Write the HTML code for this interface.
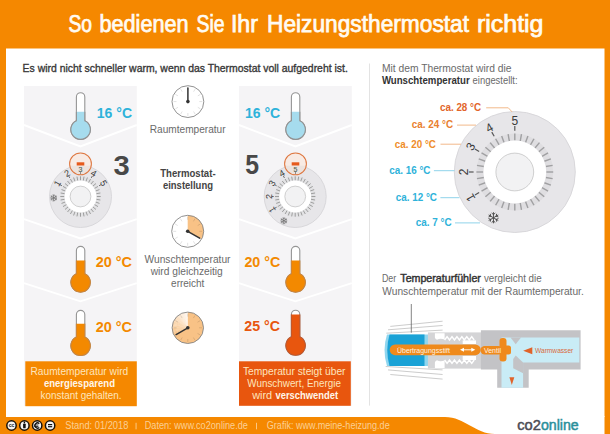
<!DOCTYPE html>
<html><head><meta charset="utf-8"><title>So bedienen Sie Ihr Heizungsthermostat richtig</title>
<style>html,body{margin:0;padding:0;background:#fff;} svg{display:block;}</style></head>
<body><svg width="610" height="434" viewBox="0 0 610 434" font-family='"Liberation Sans", sans-serif'><rect x="0" y="0" width="610" height="434" fill="#f58800"/>
<rect x="6" y="48.5" width="598.5" height="368.5" fill="#ffffff"/>
<path d="M445,417 C465,417 475,434 495,434 L604.5,434 L604.5,416 Z" fill="#ffffff"/>
<text x="68.48" y="32.20" font-size="23" fill="#fffbf2" font-weight="normal" text-anchor="start" textLength="23.52" lengthAdjust="spacingAndGlyphs" stroke="#fffbf2" stroke-width="0.75">So</text>
<text x="99.49" y="32.20" font-size="23" fill="#fffbf2" font-weight="normal" text-anchor="start" textLength="89.03" lengthAdjust="spacingAndGlyphs" stroke="#fffbf2" stroke-width="0.75">bedienen</text>
<text x="196.45" y="32.20" font-size="23" fill="#fffbf2" font-weight="normal" text-anchor="start" textLength="28.06" lengthAdjust="spacingAndGlyphs" stroke="#fffbf2" stroke-width="0.75">Sie</text>
<text x="230.91" y="32.20" font-size="23" fill="#fffbf2" font-weight="normal" text-anchor="start" textLength="27.06" lengthAdjust="spacingAndGlyphs" stroke="#fffbf2" stroke-width="0.75">Ihr</text>
<text x="267.00" y="32.20" font-size="23" fill="#fffbf2" font-weight="normal" text-anchor="start" textLength="202.00" lengthAdjust="spacingAndGlyphs" stroke="#fffbf2" stroke-width="0.75">Heizungsthermostat</text>
<text x="476.96" y="32.20" font-size="23" fill="#fffbf2" font-weight="normal" text-anchor="start" textLength="66.55" lengthAdjust="spacingAndGlyphs" stroke="#fffbf2" stroke-width="0.75">richtig</text>
<text x="22.60" y="71.70" font-size="11" fill="#383838" font-weight="normal" text-anchor="start" textLength="325.20" lengthAdjust="spacingAndGlyphs" stroke="#383838" stroke-width="0.35">Es wird nicht schneller warm, wenn das Thermostat voll aufgedreht ist.</text>
<rect x="24" y="86" width="112.8" height="320" fill="#f5f4f6"/>
<polyline points="24,125 80.4,146.5 136.8,125" fill="none" stroke="#ffffff" stroke-width="1.9"/>
<polyline points="24,219.2 80.4,238.4 136.8,219.2" fill="none" stroke="#ffffff" stroke-width="1.9"/>
<polyline points="24,283.2 80.4,301.3 136.8,283.2" fill="none" stroke="#ffffff" stroke-width="1.9"/>
<rect x="239" y="86" width="112.8" height="320" fill="#f5f4f6"/>
<polyline points="239,125 295.4,146.5 351.8,125" fill="none" stroke="#ffffff" stroke-width="1.9"/>
<polyline points="239,219.2 295.4,238.4 351.8,219.2" fill="none" stroke="#ffffff" stroke-width="1.9"/>
<polyline points="239,283.2 295.4,301.3 351.8,283.2" fill="none" stroke="#ffffff" stroke-width="1.9"/>
<clipPath id="thc1"><rect x="67.85" y="111.7" width="25.5" height="30.64999999999999"/></clipPath>
<path d="M76.40,120.80 V96.90 A4.2,4.2 0 0 1 84.80,96.90 V120.80 A9.75,9.75 0 1 1 76.40,120.80 Z" fill="#ffffff" stroke="#959595" stroke-width="1.1"/>
<path d="M76.40,120.80 V96.90 A4.2,4.2 0 0 1 84.80,96.90 V120.80 A9.75,9.75 0 1 1 76.40,120.80 Z" fill="#a6dcee" stroke="#929292" stroke-width="1.1" clip-path="url(#thc1)"/>
<clipPath id="thc2"><rect x="67.89999999999999" y="260.6" width="25.4" height="34.49999999999994"/></clipPath>
<path d="M76.40,273.66 V250.60 A4.2,4.2 0 0 1 84.80,250.60 V273.66 A9.7,9.7 0 1 1 76.40,273.66 Z" fill="#ffffff" stroke="#959595" stroke-width="1.1"/>
<path d="M76.40,273.66 V250.60 A4.2,4.2 0 0 1 84.80,250.60 V273.66 A9.7,9.7 0 1 1 76.40,273.66 Z" fill="#f38900" stroke="#cf8536" stroke-width="1.1" clip-path="url(#thc2)"/>
<clipPath id="thc3"><rect x="67.89999999999999" y="323.7" width="25.4" height="34.80000000000001"/></clipPath>
<path d="M76.40,337.06 V314.60 A4.2,4.2 0 0 1 84.80,314.60 V337.06 A9.7,9.7 0 1 1 76.40,337.06 Z" fill="#ffffff" stroke="#959595" stroke-width="1.1"/>
<path d="M76.40,337.06 V314.60 A4.2,4.2 0 0 1 84.80,314.60 V337.06 A9.7,9.7 0 1 1 76.40,337.06 Z" fill="#f38900" stroke="#cf8536" stroke-width="1.1" clip-path="url(#thc3)"/>
<clipPath id="thc4"><rect x="282.85" y="111.7" width="25.5" height="30.64999999999999"/></clipPath>
<path d="M291.40,120.80 V96.90 A4.2,4.2 0 0 1 299.80,96.90 V120.80 A9.75,9.75 0 1 1 291.40,120.80 Z" fill="#ffffff" stroke="#959595" stroke-width="1.1"/>
<path d="M291.40,120.80 V96.90 A4.2,4.2 0 0 1 299.80,96.90 V120.80 A9.75,9.75 0 1 1 291.40,120.80 Z" fill="#a6dcee" stroke="#929292" stroke-width="1.1" clip-path="url(#thc4)"/>
<clipPath id="thc5"><rect x="282.90000000000003" y="260.6" width="25.4" height="34.49999999999994"/></clipPath>
<path d="M291.40,273.66 V250.60 A4.2,4.2 0 0 1 299.80,250.60 V273.66 A9.7,9.7 0 1 1 291.40,273.66 Z" fill="#ffffff" stroke="#959595" stroke-width="1.1"/>
<path d="M291.40,273.66 V250.60 A4.2,4.2 0 0 1 299.80,250.60 V273.66 A9.7,9.7 0 1 1 291.40,273.66 Z" fill="#f38900" stroke="#cf8536" stroke-width="1.1" clip-path="url(#thc5)"/>
<clipPath id="thc6"><rect x="282.90000000000003" y="314.5" width="25.4" height="43.80000000000001"/></clipPath>
<path d="M291.40,336.86 V314.40 A4.2,4.2 0 0 1 299.80,314.40 V336.86 A9.7,9.7 0 1 1 291.40,336.86 Z" fill="#ffffff" stroke="#959595" stroke-width="1.1"/>
<path d="M291.40,336.86 V314.40 A4.2,4.2 0 0 1 299.80,314.40 V336.86 A9.7,9.7 0 1 1 291.40,336.86 Z" fill="#e8560e" stroke="#c2562a" stroke-width="1.1" clip-path="url(#thc6)"/>
<text x="96.80" y="118.00" font-size="14" fill="#2eb2da" font-weight="bold" text-anchor="start" textLength="35.20" lengthAdjust="spacingAndGlyphs" >16 °C</text>
<text x="245.00" y="118.00" font-size="14" fill="#2eb2da" font-weight="bold" text-anchor="start" textLength="35.20" lengthAdjust="spacingAndGlyphs" >16 °C</text>
<text x="95.70" y="266.80" font-size="14" fill="#f38900" font-weight="bold" text-anchor="start" textLength="36.30" lengthAdjust="spacingAndGlyphs" >20 °C</text>
<text x="244.40" y="266.90" font-size="14" fill="#f38900" font-weight="bold" text-anchor="start" textLength="35.90" lengthAdjust="spacingAndGlyphs" >20 °C</text>
<text x="95.70" y="331.80" font-size="14" fill="#f38900" font-weight="bold" text-anchor="start" textLength="36.30" lengthAdjust="spacingAndGlyphs" >20 °C</text>
<text x="244.30" y="331.30" font-size="14" fill="#e8560e" font-weight="bold" text-anchor="start" textLength="35.70" lengthAdjust="spacingAndGlyphs" >25 °C</text>
<text x="113.60" y="175.00" font-size="28" fill="#484848" font-weight="bold" text-anchor="start" textLength="16.20" lengthAdjust="spacingAndGlyphs" >3</text>
<text x="245.20" y="174.20" font-size="28" fill="#484848" font-weight="bold" text-anchor="start" textLength="13.80" lengthAdjust="spacingAndGlyphs" >5</text>
<rect x="25.3" y="361.3" width="111.5" height="44.9" fill="#f58800"/>
<rect x="239" y="361.3" width="111.8" height="44.5" fill="#e8560e"/>
<text x="30.50" y="374.50" font-size="11" fill="#fde5bd" font-weight="normal" text-anchor="start" textLength="97.70" lengthAdjust="spacingAndGlyphs" >Raumtemperatur wird</text>
<text x="43.90" y="386.80" font-size="11" fill="#fff6ea" font-weight="bold" text-anchor="start" textLength="71.10" lengthAdjust="spacingAndGlyphs" >energiesparend</text>
<text x="40.60" y="398.70" font-size="11" fill="#fde5bd" font-weight="normal" text-anchor="start" textLength="80.80" lengthAdjust="spacingAndGlyphs" >konstant gehalten.</text>
<text x="243.00" y="375.20" font-size="11" fill="#fde5bd" font-weight="normal" text-anchor="start" textLength="102.50" lengthAdjust="spacingAndGlyphs" >Temperatur steigt über</text>
<text x="247.30" y="386.80" font-size="11" fill="#fde5bd" font-weight="normal" text-anchor="start" textLength="93.60" lengthAdjust="spacingAndGlyphs" >Wunschwert, Energie</text>
<text x="252.20" y="398.70" font-size="11" fill="#fde5bd" font-weight="normal" text-anchor="start" textLength="20.00" lengthAdjust="spacingAndGlyphs" >wird</text>
<text x="275.50" y="398.70" font-size="11" fill="#fff6ea" font-weight="bold" text-anchor="start" textLength="62.70" lengthAdjust="spacingAndGlyphs" >verschwendet</text>
<text x="149.80" y="133.30" font-size="11" fill="#6a6a6a" font-weight="normal" text-anchor="start" textLength="75.80" lengthAdjust="spacingAndGlyphs" >Raumtemperatur</text>
<text x="160.20" y="176.80" font-size="11" fill="#444444" font-weight="bold" text-anchor="start" textLength="55.40" lengthAdjust="spacingAndGlyphs" >Thermostat-</text>
<text x="162.90" y="188.60" font-size="11" fill="#444444" font-weight="bold" text-anchor="start" textLength="50.10" lengthAdjust="spacingAndGlyphs" >einstellung</text>
<text x="144.60" y="262.80" font-size="11" fill="#6a6a6a" font-weight="normal" text-anchor="start" textLength="85.90" lengthAdjust="spacingAndGlyphs" >Wunschtemperatur</text>
<text x="150.70" y="274.60" font-size="11" fill="#6a6a6a" font-weight="normal" text-anchor="start" textLength="72.10" lengthAdjust="spacingAndGlyphs" >wird gleichzeitig</text>
<text x="171.10" y="286.90" font-size="11" fill="#6a6a6a" font-weight="normal" text-anchor="start" textLength="33.30" lengthAdjust="spacingAndGlyphs" >erreicht</text>
<circle cx="187.9" cy="101.6" r="15.9" fill="#ffffff"/>
<line x1="187.90" y1="90.20" x2="187.90" y2="87.20" stroke="#000000" stroke-opacity="0.15" stroke-width="0.8"/>
<line x1="193.60" y1="91.73" x2="195.10" y2="89.13" stroke="#000000" stroke-opacity="0.15" stroke-width="0.8"/>
<line x1="197.77" y1="95.90" x2="200.37" y2="94.40" stroke="#000000" stroke-opacity="0.15" stroke-width="0.8"/>
<line x1="199.30" y1="101.60" x2="202.30" y2="101.60" stroke="#000000" stroke-opacity="0.15" stroke-width="0.8"/>
<line x1="197.77" y1="107.30" x2="200.37" y2="108.80" stroke="#000000" stroke-opacity="0.15" stroke-width="0.8"/>
<line x1="193.60" y1="111.47" x2="195.10" y2="114.07" stroke="#000000" stroke-opacity="0.15" stroke-width="0.8"/>
<line x1="187.90" y1="113.00" x2="187.90" y2="116.00" stroke="#000000" stroke-opacity="0.15" stroke-width="0.8"/>
<line x1="182.20" y1="111.47" x2="180.70" y2="114.07" stroke="#000000" stroke-opacity="0.15" stroke-width="0.8"/>
<line x1="178.03" y1="107.30" x2="175.43" y2="108.80" stroke="#000000" stroke-opacity="0.15" stroke-width="0.8"/>
<line x1="176.50" y1="101.60" x2="173.50" y2="101.60" stroke="#000000" stroke-opacity="0.15" stroke-width="0.8"/>
<line x1="178.03" y1="95.90" x2="175.43" y2="94.40" stroke="#000000" stroke-opacity="0.15" stroke-width="0.8"/>
<line x1="182.20" y1="91.73" x2="180.70" y2="89.13" stroke="#000000" stroke-opacity="0.15" stroke-width="0.8"/>
<circle cx="187.9" cy="101.6" r="15.9" fill="none" stroke="#858585" stroke-width="0.9"/>
<line x1="187.9" y1="101.6" x2="187.90" y2="87.90" stroke="#333333" stroke-width="1.5" stroke-linecap="round"/>
<circle cx="187.9" cy="101.6" r="1.8" fill="#333333"/>
<circle cx="187.7" cy="231.3" r="16" fill="#ffffff"/>
<path d="M187.7,231.3 L187.70,215.30 A16,16 0 0 1 201.56,239.30 Z" fill="#f8c286" fill-opacity="1.000"/>
<line x1="187.70" y1="219.80" x2="187.70" y2="216.80" stroke="#000000" stroke-opacity="0.15" stroke-width="0.8"/>
<line x1="193.45" y1="221.34" x2="194.95" y2="218.74" stroke="#000000" stroke-opacity="0.15" stroke-width="0.8"/>
<line x1="197.66" y1="225.55" x2="200.26" y2="224.05" stroke="#000000" stroke-opacity="0.15" stroke-width="0.8"/>
<line x1="199.20" y1="231.30" x2="202.20" y2="231.30" stroke="#000000" stroke-opacity="0.15" stroke-width="0.8"/>
<line x1="197.66" y1="237.05" x2="200.26" y2="238.55" stroke="#000000" stroke-opacity="0.15" stroke-width="0.8"/>
<line x1="193.45" y1="241.26" x2="194.95" y2="243.86" stroke="#000000" stroke-opacity="0.15" stroke-width="0.8"/>
<line x1="187.70" y1="242.80" x2="187.70" y2="245.80" stroke="#000000" stroke-opacity="0.15" stroke-width="0.8"/>
<line x1="181.95" y1="241.26" x2="180.45" y2="243.86" stroke="#000000" stroke-opacity="0.15" stroke-width="0.8"/>
<line x1="177.74" y1="237.05" x2="175.14" y2="238.55" stroke="#000000" stroke-opacity="0.15" stroke-width="0.8"/>
<line x1="176.20" y1="231.30" x2="173.20" y2="231.30" stroke="#000000" stroke-opacity="0.15" stroke-width="0.8"/>
<line x1="177.74" y1="225.55" x2="175.14" y2="224.05" stroke="#000000" stroke-opacity="0.15" stroke-width="0.8"/>
<line x1="181.95" y1="221.34" x2="180.45" y2="218.74" stroke="#000000" stroke-opacity="0.15" stroke-width="0.8"/>
<circle cx="187.7" cy="231.3" r="16" fill="none" stroke="#858585" stroke-width="0.9"/>
<line x1="187.7" y1="231.3" x2="199.65" y2="238.20" stroke="#333333" stroke-width="1.5" stroke-linecap="round"/>
<circle cx="187.7" cy="231.3" r="1.8" fill="#333333"/>
<circle cx="187.8" cy="327.8" r="15.7" fill="#ffffff"/>
<path d="M187.8,327.8 L187.80,312.10 A15.7,15.7 0 1 1 174.20,335.65 Z" fill="#f8c286" fill-opacity="1.000"/>
<path d="M187.8,327.8 L174.20,335.65 A15.7,15.7 0 0 1 173.52,334.34 Z" fill="#f8c286" fill-opacity="0.981"/>
<path d="M187.8,327.8 L173.57,334.44 A15.7,15.7 0 0 1 173.01,333.07 Z" fill="#f8c286" fill-opacity="0.944"/>
<path d="M187.8,327.8 L173.05,333.17 A15.7,15.7 0 0 1 172.61,331.76 Z" fill="#f8c286" fill-opacity="0.906"/>
<path d="M187.8,327.8 L172.63,331.86 A15.7,15.7 0 0 1 172.32,330.42 Z" fill="#f8c286" fill-opacity="0.869"/>
<path d="M187.8,327.8 L172.34,330.53 A15.7,15.7 0 0 1 172.15,329.06 Z" fill="#f8c286" fill-opacity="0.831"/>
<path d="M187.8,327.8 L172.16,329.17 A15.7,15.7 0 0 1 172.10,327.69 Z" fill="#f8c286" fill-opacity="0.794"/>
<path d="M187.8,327.8 L172.10,327.80 A15.7,15.7 0 0 1 172.17,326.32 Z" fill="#f8c286" fill-opacity="0.756"/>
<path d="M187.8,327.8 L172.16,326.43 A15.7,15.7 0 0 1 172.36,324.97 Z" fill="#f8c286" fill-opacity="0.719"/>
<path d="M187.8,327.8 L172.34,325.07 A15.7,15.7 0 0 1 172.66,323.63 Z" fill="#f8c286" fill-opacity="0.681"/>
<path d="M187.8,327.8 L172.63,323.74 A15.7,15.7 0 0 1 173.08,322.33 Z" fill="#f8c286" fill-opacity="0.644"/>
<path d="M187.8,327.8 L173.05,322.43 A15.7,15.7 0 0 1 173.62,321.07 Z" fill="#f8c286" fill-opacity="0.606"/>
<path d="M187.8,327.8 L173.57,321.16 A15.7,15.7 0 0 1 174.26,319.86 Z" fill="#f8c286" fill-opacity="0.569"/>
<path d="M187.8,327.8 L174.20,319.95 A15.7,15.7 0 0 1 175.00,318.71 Z" fill="#f8c286" fill-opacity="0.531"/>
<path d="M187.8,327.8 L174.94,318.79 A15.7,15.7 0 0 1 175.84,317.62 Z" fill="#f8c286" fill-opacity="0.494"/>
<path d="M187.8,327.8 L175.77,317.71 A15.7,15.7 0 0 1 176.78,316.62 Z" fill="#f8c286" fill-opacity="0.456"/>
<path d="M187.8,327.8 L176.70,316.70 A15.7,15.7 0 0 1 177.79,315.70 Z" fill="#f8c286" fill-opacity="0.419"/>
<path d="M187.8,327.8 L177.71,315.77 A15.7,15.7 0 0 1 178.88,314.88 Z" fill="#f8c286" fill-opacity="0.381"/>
<path d="M187.8,327.8 L178.79,314.94 A15.7,15.7 0 0 1 180.05,314.15 Z" fill="#f8c286" fill-opacity="0.344"/>
<path d="M187.8,327.8 L179.95,314.20 A15.7,15.7 0 0 1 181.26,313.52 Z" fill="#f8c286" fill-opacity="0.306"/>
<path d="M187.8,327.8 L181.16,313.57 A15.7,15.7 0 0 1 182.53,313.01 Z" fill="#f8c286" fill-opacity="0.269"/>
<path d="M187.8,327.8 L182.43,313.05 A15.7,15.7 0 0 1 183.84,312.61 Z" fill="#f8c286" fill-opacity="0.231"/>
<path d="M187.8,327.8 L183.74,312.63 A15.7,15.7 0 0 1 185.18,312.32 Z" fill="#f8c286" fill-opacity="0.194"/>
<path d="M187.8,327.8 L185.07,312.34 A15.7,15.7 0 0 1 186.54,312.15 Z" fill="#f8c286" fill-opacity="0.156"/>
<path d="M187.8,327.8 L186.43,312.16 A15.7,15.7 0 0 1 187.91,312.10 Z" fill="#f8c286" fill-opacity="0.119"/>
<line x1="187.80" y1="316.60" x2="187.80" y2="313.60" stroke="#000000" stroke-opacity="0.15" stroke-width="0.8"/>
<line x1="193.40" y1="318.10" x2="194.90" y2="315.50" stroke="#000000" stroke-opacity="0.15" stroke-width="0.8"/>
<line x1="197.50" y1="322.20" x2="200.10" y2="320.70" stroke="#000000" stroke-opacity="0.15" stroke-width="0.8"/>
<line x1="199.00" y1="327.80" x2="202.00" y2="327.80" stroke="#000000" stroke-opacity="0.15" stroke-width="0.8"/>
<line x1="197.50" y1="333.40" x2="200.10" y2="334.90" stroke="#000000" stroke-opacity="0.15" stroke-width="0.8"/>
<line x1="193.40" y1="337.50" x2="194.90" y2="340.10" stroke="#000000" stroke-opacity="0.15" stroke-width="0.8"/>
<line x1="187.80" y1="339.00" x2="187.80" y2="342.00" stroke="#000000" stroke-opacity="0.15" stroke-width="0.8"/>
<line x1="182.20" y1="337.50" x2="180.70" y2="340.10" stroke="#000000" stroke-opacity="0.15" stroke-width="0.8"/>
<line x1="178.10" y1="333.40" x2="175.50" y2="334.90" stroke="#000000" stroke-opacity="0.15" stroke-width="0.8"/>
<line x1="176.60" y1="327.80" x2="173.60" y2="327.80" stroke="#000000" stroke-opacity="0.15" stroke-width="0.8"/>
<line x1="178.10" y1="322.20" x2="175.50" y2="320.70" stroke="#000000" stroke-opacity="0.15" stroke-width="0.8"/>
<line x1="182.20" y1="318.10" x2="180.70" y2="315.50" stroke="#000000" stroke-opacity="0.15" stroke-width="0.8"/>
<circle cx="187.8" cy="327.8" r="15.7" fill="none" stroke="#858585" stroke-width="0.9"/>
<line x1="187.8" y1="327.8" x2="176.11" y2="334.55" stroke="#333333" stroke-width="1.5" stroke-linecap="round"/>
<circle cx="187.8" cy="327.8" r="1.8" fill="#333333"/>
<circle cx="80.5" cy="196.5" r="31" fill="#e7e6e9" stroke="#d6d5d8" stroke-width="0.9"/>
<circle cx="80.5" cy="196.5" r="20.2" fill="#e2e2e4"/>
<line x1="80.50" y1="180.50" x2="80.50" y2="176.30" stroke="#9a9a9a" stroke-width="0.95"/>
<line x1="83.28" y1="180.74" x2="84.01" y2="176.61" stroke="#9a9a9a" stroke-width="0.95"/>
<line x1="85.97" y1="181.46" x2="87.41" y2="177.52" stroke="#9a9a9a" stroke-width="0.95"/>
<line x1="88.50" y1="182.64" x2="90.60" y2="179.01" stroke="#9a9a9a" stroke-width="0.95"/>
<line x1="90.78" y1="184.24" x2="93.48" y2="181.03" stroke="#9a9a9a" stroke-width="0.95"/>
<line x1="92.76" y1="186.22" x2="95.97" y2="183.52" stroke="#9a9a9a" stroke-width="0.95"/>
<line x1="94.36" y1="188.50" x2="97.99" y2="186.40" stroke="#9a9a9a" stroke-width="0.95"/>
<line x1="95.54" y1="191.03" x2="99.48" y2="189.59" stroke="#9a9a9a" stroke-width="0.95"/>
<line x1="96.26" y1="193.72" x2="100.39" y2="192.99" stroke="#9a9a9a" stroke-width="0.95"/>
<line x1="96.50" y1="196.50" x2="100.70" y2="196.50" stroke="#9a9a9a" stroke-width="0.95"/>
<line x1="96.26" y1="199.28" x2="100.39" y2="200.01" stroke="#9a9a9a" stroke-width="0.95"/>
<line x1="95.54" y1="201.97" x2="99.48" y2="203.41" stroke="#9a9a9a" stroke-width="0.95"/>
<line x1="94.36" y1="204.50" x2="97.99" y2="206.60" stroke="#9a9a9a" stroke-width="0.95"/>
<line x1="92.76" y1="206.78" x2="95.97" y2="209.48" stroke="#9a9a9a" stroke-width="0.95"/>
<line x1="90.78" y1="208.76" x2="93.48" y2="211.97" stroke="#9a9a9a" stroke-width="0.95"/>
<line x1="88.50" y1="210.36" x2="90.60" y2="213.99" stroke="#9a9a9a" stroke-width="0.95"/>
<line x1="85.97" y1="211.54" x2="87.41" y2="215.48" stroke="#9a9a9a" stroke-width="0.95"/>
<line x1="83.28" y1="212.26" x2="84.01" y2="216.39" stroke="#9a9a9a" stroke-width="0.95"/>
<line x1="80.50" y1="212.50" x2="80.50" y2="216.70" stroke="#9a9a9a" stroke-width="0.95"/>
<line x1="77.72" y1="212.26" x2="76.99" y2="216.39" stroke="#9a9a9a" stroke-width="0.95"/>
<line x1="75.03" y1="211.54" x2="73.59" y2="215.48" stroke="#9a9a9a" stroke-width="0.95"/>
<line x1="72.50" y1="210.36" x2="70.40" y2="213.99" stroke="#9a9a9a" stroke-width="0.95"/>
<line x1="70.22" y1="208.76" x2="67.52" y2="211.97" stroke="#9a9a9a" stroke-width="0.95"/>
<line x1="68.24" y1="206.78" x2="65.03" y2="209.48" stroke="#9a9a9a" stroke-width="0.95"/>
<line x1="66.64" y1="204.50" x2="63.01" y2="206.60" stroke="#9a9a9a" stroke-width="0.95"/>
<line x1="65.46" y1="201.97" x2="61.52" y2="203.41" stroke="#9a9a9a" stroke-width="0.95"/>
<line x1="64.74" y1="199.28" x2="60.61" y2="200.01" stroke="#9a9a9a" stroke-width="0.95"/>
<line x1="64.50" y1="196.50" x2="60.30" y2="196.50" stroke="#9a9a9a" stroke-width="0.95"/>
<line x1="64.74" y1="193.72" x2="60.61" y2="192.99" stroke="#9a9a9a" stroke-width="0.95"/>
<line x1="65.46" y1="191.03" x2="61.52" y2="189.59" stroke="#9a9a9a" stroke-width="0.95"/>
<line x1="66.64" y1="188.50" x2="63.01" y2="186.40" stroke="#9a9a9a" stroke-width="0.95"/>
<line x1="68.24" y1="186.22" x2="65.03" y2="183.52" stroke="#9a9a9a" stroke-width="0.95"/>
<line x1="70.22" y1="184.24" x2="67.52" y2="181.03" stroke="#9a9a9a" stroke-width="0.95"/>
<line x1="72.50" y1="182.64" x2="70.40" y2="179.01" stroke="#9a9a9a" stroke-width="0.95"/>
<line x1="75.03" y1="181.46" x2="73.59" y2="177.52" stroke="#9a9a9a" stroke-width="0.95"/>
<line x1="77.72" y1="180.74" x2="76.99" y2="176.61" stroke="#9a9a9a" stroke-width="0.95"/>
<circle cx="80.5" cy="196.5" r="16" fill="#ffffff"/>
<circle cx="80.5" cy="196.5" r="10.4" fill="#f2f2f3" stroke="#bdbdbd" stroke-width="0.7"/>
<g transform="translate(53.74,197.90) rotate(0)" stroke="#6a6a6a" stroke-width="0.62" stroke-linecap="round" fill="none"><line x1="0" y1="0" x2="0.00" y2="-3.24"/><line x1="0.00" y1="-2.01" x2="-0.94" y2="-2.80"/><line x1="0.00" y1="-2.01" x2="0.94" y2="-2.80"/><line x1="0" y1="0" x2="2.81" y2="-1.62"/><line x1="1.74" y1="-1.00" x2="1.95" y2="-2.22"/><line x1="1.74" y1="-1.00" x2="2.90" y2="-0.58"/><line x1="0" y1="0" x2="2.81" y2="1.62"/><line x1="1.74" y1="1.00" x2="2.90" y2="0.58"/><line x1="1.74" y1="1.00" x2="1.95" y2="2.22"/><line x1="0" y1="0" x2="0.00" y2="3.24"/><line x1="0.00" y1="2.01" x2="0.94" y2="2.80"/><line x1="0.00" y1="2.01" x2="-0.94" y2="2.80"/><line x1="0" y1="0" x2="-2.81" y2="1.62"/><line x1="-1.74" y1="1.00" x2="-1.95" y2="2.22"/><line x1="-1.74" y1="1.00" x2="-2.90" y2="0.58"/><line x1="0" y1="0" x2="-2.81" y2="-1.62"/><line x1="-1.74" y1="-1.00" x2="-2.90" y2="-0.58"/><line x1="-1.74" y1="-1.00" x2="-1.95" y2="-2.22"/></g>
<text x="0" y="3.24" font-size="9" fill="#3a3a3a" stroke="#3a3a3a" stroke-width="0" text-anchor="middle" transform="translate(57.29,183.10) rotate(-60)">1</text>
<line x1="61.88" y1="185.75" x2="60.06" y2="184.70" stroke="#555555" stroke-width="0.90"/>
<text x="0" y="3.24" font-size="9" fill="#3a3a3a" stroke="#3a3a3a" stroke-width="0" text-anchor="middle" transform="translate(67.10,173.29) rotate(-30)">2</text>
<line x1="69.75" y1="177.88" x2="68.70" y2="176.06" stroke="#555555" stroke-width="0.90"/>
<text x="0" y="3.24" font-size="9" fill="#3a3a3a" stroke="#3a3a3a" stroke-width="0" text-anchor="middle" transform="translate(80.50,169.70) rotate(0)">3</text>
<line x1="80.50" y1="175.00" x2="80.50" y2="172.90" stroke="#555555" stroke-width="0.90"/>
<text x="0" y="3.24" font-size="9" fill="#3a3a3a" stroke="#3a3a3a" stroke-width="0" text-anchor="middle" transform="translate(93.90,173.29) rotate(30)">4</text>
<line x1="91.25" y1="177.88" x2="92.30" y2="176.06" stroke="#555555" stroke-width="0.90"/>
<text x="0" y="3.24" font-size="9" fill="#3a3a3a" stroke="#3a3a3a" stroke-width="0" text-anchor="middle" transform="translate(103.71,183.10) rotate(60)">5</text>
<line x1="99.12" y1="185.75" x2="100.94" y2="184.70" stroke="#555555" stroke-width="0.90"/>
<circle cx="295.2" cy="196.5" r="31" fill="#e7e6e9" stroke="#d6d5d8" stroke-width="0.9"/>
<circle cx="295.2" cy="196.5" r="20.2" fill="#e2e2e4"/>
<line x1="295.20" y1="180.50" x2="295.20" y2="176.30" stroke="#9a9a9a" stroke-width="0.95"/>
<line x1="297.98" y1="180.74" x2="298.71" y2="176.61" stroke="#9a9a9a" stroke-width="0.95"/>
<line x1="300.67" y1="181.46" x2="302.11" y2="177.52" stroke="#9a9a9a" stroke-width="0.95"/>
<line x1="303.20" y1="182.64" x2="305.30" y2="179.01" stroke="#9a9a9a" stroke-width="0.95"/>
<line x1="305.48" y1="184.24" x2="308.18" y2="181.03" stroke="#9a9a9a" stroke-width="0.95"/>
<line x1="307.46" y1="186.22" x2="310.67" y2="183.52" stroke="#9a9a9a" stroke-width="0.95"/>
<line x1="309.06" y1="188.50" x2="312.69" y2="186.40" stroke="#9a9a9a" stroke-width="0.95"/>
<line x1="310.24" y1="191.03" x2="314.18" y2="189.59" stroke="#9a9a9a" stroke-width="0.95"/>
<line x1="310.96" y1="193.72" x2="315.09" y2="192.99" stroke="#9a9a9a" stroke-width="0.95"/>
<line x1="311.20" y1="196.50" x2="315.40" y2="196.50" stroke="#9a9a9a" stroke-width="0.95"/>
<line x1="310.96" y1="199.28" x2="315.09" y2="200.01" stroke="#9a9a9a" stroke-width="0.95"/>
<line x1="310.24" y1="201.97" x2="314.18" y2="203.41" stroke="#9a9a9a" stroke-width="0.95"/>
<line x1="309.06" y1="204.50" x2="312.69" y2="206.60" stroke="#9a9a9a" stroke-width="0.95"/>
<line x1="307.46" y1="206.78" x2="310.67" y2="209.48" stroke="#9a9a9a" stroke-width="0.95"/>
<line x1="305.48" y1="208.76" x2="308.18" y2="211.97" stroke="#9a9a9a" stroke-width="0.95"/>
<line x1="303.20" y1="210.36" x2="305.30" y2="213.99" stroke="#9a9a9a" stroke-width="0.95"/>
<line x1="300.67" y1="211.54" x2="302.11" y2="215.48" stroke="#9a9a9a" stroke-width="0.95"/>
<line x1="297.98" y1="212.26" x2="298.71" y2="216.39" stroke="#9a9a9a" stroke-width="0.95"/>
<line x1="295.20" y1="212.50" x2="295.20" y2="216.70" stroke="#9a9a9a" stroke-width="0.95"/>
<line x1="292.42" y1="212.26" x2="291.69" y2="216.39" stroke="#9a9a9a" stroke-width="0.95"/>
<line x1="289.73" y1="211.54" x2="288.29" y2="215.48" stroke="#9a9a9a" stroke-width="0.95"/>
<line x1="287.20" y1="210.36" x2="285.10" y2="213.99" stroke="#9a9a9a" stroke-width="0.95"/>
<line x1="284.92" y1="208.76" x2="282.22" y2="211.97" stroke="#9a9a9a" stroke-width="0.95"/>
<line x1="282.94" y1="206.78" x2="279.73" y2="209.48" stroke="#9a9a9a" stroke-width="0.95"/>
<line x1="281.34" y1="204.50" x2="277.71" y2="206.60" stroke="#9a9a9a" stroke-width="0.95"/>
<line x1="280.16" y1="201.97" x2="276.22" y2="203.41" stroke="#9a9a9a" stroke-width="0.95"/>
<line x1="279.44" y1="199.28" x2="275.31" y2="200.01" stroke="#9a9a9a" stroke-width="0.95"/>
<line x1="279.20" y1="196.50" x2="275.00" y2="196.50" stroke="#9a9a9a" stroke-width="0.95"/>
<line x1="279.44" y1="193.72" x2="275.31" y2="192.99" stroke="#9a9a9a" stroke-width="0.95"/>
<line x1="280.16" y1="191.03" x2="276.22" y2="189.59" stroke="#9a9a9a" stroke-width="0.95"/>
<line x1="281.34" y1="188.50" x2="277.71" y2="186.40" stroke="#9a9a9a" stroke-width="0.95"/>
<line x1="282.94" y1="186.22" x2="279.73" y2="183.52" stroke="#9a9a9a" stroke-width="0.95"/>
<line x1="284.92" y1="184.24" x2="282.22" y2="181.03" stroke="#9a9a9a" stroke-width="0.95"/>
<line x1="287.20" y1="182.64" x2="285.10" y2="179.01" stroke="#9a9a9a" stroke-width="0.95"/>
<line x1="289.73" y1="181.46" x2="288.29" y2="177.52" stroke="#9a9a9a" stroke-width="0.95"/>
<line x1="292.42" y1="180.74" x2="291.69" y2="176.61" stroke="#9a9a9a" stroke-width="0.95"/>
<circle cx="295.2" cy="196.5" r="16" fill="#ffffff"/>
<circle cx="295.2" cy="196.5" r="10.4" fill="#f2f2f3" stroke="#bdbdbd" stroke-width="0.7"/>
<g transform="translate(283.87,220.79) rotate(0)" stroke="#6a6a6a" stroke-width="0.62" stroke-linecap="round" fill="none"><line x1="0" y1="0" x2="0.00" y2="-3.24"/><line x1="0.00" y1="-2.01" x2="-0.94" y2="-2.80"/><line x1="0.00" y1="-2.01" x2="0.94" y2="-2.80"/><line x1="0" y1="0" x2="2.81" y2="-1.62"/><line x1="1.74" y1="-1.00" x2="1.95" y2="-2.22"/><line x1="1.74" y1="-1.00" x2="2.90" y2="-0.58"/><line x1="0" y1="0" x2="2.81" y2="1.62"/><line x1="1.74" y1="1.00" x2="2.90" y2="0.58"/><line x1="1.74" y1="1.00" x2="1.95" y2="2.22"/><line x1="0" y1="0" x2="0.00" y2="3.24"/><line x1="0.00" y1="2.01" x2="0.94" y2="2.80"/><line x1="0.00" y1="2.01" x2="-0.94" y2="2.80"/><line x1="0" y1="0" x2="-2.81" y2="1.62"/><line x1="-1.74" y1="1.00" x2="-1.95" y2="2.22"/><line x1="-1.74" y1="1.00" x2="-2.90" y2="0.58"/><line x1="0" y1="0" x2="-2.81" y2="-1.62"/><line x1="-1.74" y1="-1.00" x2="-2.90" y2="-0.58"/><line x1="-1.74" y1="-1.00" x2="-1.95" y2="-2.22"/></g>
<text x="0" y="3.24" font-size="9" fill="#3a3a3a" stroke="#3a3a3a" stroke-width="0" text-anchor="middle" transform="translate(271.99,209.90) rotate(-120)">1</text>
<line x1="276.58" y1="207.25" x2="274.76" y2="208.30" stroke="#555555" stroke-width="0.90"/>
<text x="0" y="3.24" font-size="9" fill="#3a3a3a" stroke="#3a3a3a" stroke-width="0" text-anchor="middle" transform="translate(268.40,196.50) rotate(-90)">2</text>
<line x1="273.70" y1="196.50" x2="271.60" y2="196.50" stroke="#555555" stroke-width="0.90"/>
<text x="0" y="3.24" font-size="9" fill="#3a3a3a" stroke="#3a3a3a" stroke-width="0" text-anchor="middle" transform="translate(271.99,183.10) rotate(-60)">3</text>
<line x1="276.58" y1="185.75" x2="274.76" y2="184.70" stroke="#555555" stroke-width="0.90"/>
<text x="0" y="3.24" font-size="9" fill="#3a3a3a" stroke="#3a3a3a" stroke-width="0" text-anchor="middle" transform="translate(281.80,173.29) rotate(-30)">4</text>
<line x1="284.45" y1="177.88" x2="283.40" y2="176.06" stroke="#555555" stroke-width="0.90"/>
<text x="0" y="3.24" font-size="9" fill="#3a3a3a" stroke="#3a3a3a" stroke-width="0" text-anchor="middle" transform="translate(295.20,169.70) rotate(0)">5</text>
<line x1="295.20" y1="175.00" x2="295.20" y2="172.90" stroke="#555555" stroke-width="0.90"/>
<clipPath id="mg3"><circle cx="80.5" cy="163.9" r="10.8"/></clipPath>
<circle cx="80.5" cy="163.9" r="10.8" fill="#f8ebe4"/>
<rect x="68.5" y="165.70000000000002" width="24" height="12" fill="#ece3de" clip-path="url(#mg3)"/>
<rect x="76.7" y="162.3" width="7.6" height="3.2" fill="#e65a1c"/>
<text x="80.5" y="171.5" font-size="7" fill="#556658" stroke="#556658" stroke-width="0.15" text-anchor="middle">3</text>
<line x1="80.5" y1="171.9" x2="80.5" y2="174.4" stroke="#777" stroke-width="0.8"/>
<circle cx="80.5" cy="163.9" r="10.9" fill="none" stroke="#de7740" stroke-width="1.05"/>
<clipPath id="mg5"><circle cx="295.5" cy="163.9" r="10.8"/></clipPath>
<circle cx="295.5" cy="163.9" r="10.8" fill="#f8ebe4"/>
<rect x="283.5" y="165.70000000000002" width="24" height="12" fill="#ece3de" clip-path="url(#mg5)"/>
<rect x="291.7" y="162.3" width="7.6" height="3.2" fill="#e65a1c"/>
<text x="295.5" y="171.5" font-size="7" fill="#556658" stroke="#556658" stroke-width="0.15" text-anchor="middle">5</text>
<line x1="295.5" y1="171.9" x2="295.5" y2="174.4" stroke="#777" stroke-width="0.8"/>
<circle cx="295.5" cy="163.9" r="10.9" fill="none" stroke="#de7740" stroke-width="1.05"/>
<line x1="369.5" y1="63.5" x2="369.5" y2="405.6" stroke="#e3e3e3" stroke-width="1"/>
<text x="381.90" y="71.80" font-size="11" fill="#6a6a6a" font-weight="normal" text-anchor="start" textLength="129.60" lengthAdjust="spacingAndGlyphs" >Mit dem Thermostat wird die</text>
<text x="381.90" y="83.90" font-size="11" fill="#333333" font-weight="bold" text-anchor="start" textLength="87.80" lengthAdjust="spacingAndGlyphs" >Wunschtemperatur</text>
<text x="472.60" y="83.90" font-size="11" fill="#6a6a6a" font-weight="normal" text-anchor="start" textLength="45.00" lengthAdjust="spacingAndGlyphs" >eingestellt:</text>
<circle cx="514.8" cy="172" r="60.5" fill="#e7e6e9" stroke="#d6d5d8" stroke-width="0.9"/>
<circle cx="514.8" cy="172" r="38.4" fill="#dfdee1"/>
<line x1="514.80" y1="140.60" x2="514.80" y2="133.60" stroke="#a0a0a2" stroke-width="1.4"/>
<line x1="520.25" y1="141.08" x2="521.47" y2="134.18" stroke="#a0a0a2" stroke-width="1.4"/>
<line x1="525.54" y1="142.49" x2="527.93" y2="135.92" stroke="#a0a0a2" stroke-width="1.4"/>
<line x1="530.50" y1="144.81" x2="534.00" y2="138.74" stroke="#a0a0a2" stroke-width="1.4"/>
<line x1="534.98" y1="147.95" x2="539.48" y2="142.58" stroke="#a0a0a2" stroke-width="1.4"/>
<line x1="538.85" y1="151.82" x2="544.22" y2="147.32" stroke="#a0a0a2" stroke-width="1.4"/>
<line x1="541.99" y1="156.30" x2="548.06" y2="152.80" stroke="#a0a0a2" stroke-width="1.4"/>
<line x1="544.31" y1="161.26" x2="550.88" y2="158.87" stroke="#a0a0a2" stroke-width="1.4"/>
<line x1="545.72" y1="166.55" x2="552.62" y2="165.33" stroke="#a0a0a2" stroke-width="1.4"/>
<line x1="546.20" y1="172.00" x2="553.20" y2="172.00" stroke="#a0a0a2" stroke-width="1.4"/>
<line x1="545.72" y1="177.45" x2="552.62" y2="178.67" stroke="#a0a0a2" stroke-width="1.4"/>
<line x1="544.31" y1="182.74" x2="550.88" y2="185.13" stroke="#a0a0a2" stroke-width="1.4"/>
<line x1="541.99" y1="187.70" x2="548.06" y2="191.20" stroke="#a0a0a2" stroke-width="1.4"/>
<line x1="538.85" y1="192.18" x2="544.22" y2="196.68" stroke="#a0a0a2" stroke-width="1.4"/>
<line x1="534.98" y1="196.05" x2="539.48" y2="201.42" stroke="#a0a0a2" stroke-width="1.4"/>
<line x1="530.50" y1="199.19" x2="534.00" y2="205.26" stroke="#a0a0a2" stroke-width="1.4"/>
<line x1="525.54" y1="201.51" x2="527.93" y2="208.08" stroke="#a0a0a2" stroke-width="1.4"/>
<line x1="520.25" y1="202.92" x2="521.47" y2="209.82" stroke="#a0a0a2" stroke-width="1.4"/>
<line x1="514.80" y1="203.40" x2="514.80" y2="210.40" stroke="#a0a0a2" stroke-width="1.4"/>
<line x1="509.35" y1="202.92" x2="508.13" y2="209.82" stroke="#a0a0a2" stroke-width="1.4"/>
<line x1="504.06" y1="201.51" x2="501.67" y2="208.08" stroke="#a0a0a2" stroke-width="1.4"/>
<line x1="499.10" y1="199.19" x2="495.60" y2="205.26" stroke="#a0a0a2" stroke-width="1.4"/>
<line x1="494.62" y1="196.05" x2="490.12" y2="201.42" stroke="#a0a0a2" stroke-width="1.4"/>
<line x1="490.75" y1="192.18" x2="485.38" y2="196.68" stroke="#a0a0a2" stroke-width="1.4"/>
<line x1="487.61" y1="187.70" x2="481.54" y2="191.20" stroke="#a0a0a2" stroke-width="1.4"/>
<line x1="485.29" y1="182.74" x2="478.72" y2="185.13" stroke="#a0a0a2" stroke-width="1.4"/>
<line x1="483.88" y1="177.45" x2="476.98" y2="178.67" stroke="#a0a0a2" stroke-width="1.4"/>
<line x1="483.40" y1="172.00" x2="476.40" y2="172.00" stroke="#a0a0a2" stroke-width="1.4"/>
<line x1="483.88" y1="166.55" x2="476.98" y2="165.33" stroke="#a0a0a2" stroke-width="1.4"/>
<line x1="485.29" y1="161.26" x2="478.72" y2="158.87" stroke="#a0a0a2" stroke-width="1.4"/>
<line x1="487.61" y1="156.30" x2="481.54" y2="152.80" stroke="#a0a0a2" stroke-width="1.4"/>
<line x1="490.75" y1="151.82" x2="485.38" y2="147.32" stroke="#a0a0a2" stroke-width="1.4"/>
<line x1="494.62" y1="147.95" x2="490.12" y2="142.58" stroke="#a0a0a2" stroke-width="1.4"/>
<line x1="499.10" y1="144.81" x2="495.60" y2="138.74" stroke="#a0a0a2" stroke-width="1.4"/>
<line x1="504.06" y1="142.49" x2="501.67" y2="135.92" stroke="#a0a0a2" stroke-width="1.4"/>
<line x1="509.35" y1="141.08" x2="508.13" y2="134.18" stroke="#a0a0a2" stroke-width="1.4"/>
<circle cx="514.8" cy="172" r="31.4" fill="#ffffff"/>
<circle cx="514.8" cy="172" r="18.9" fill="#f2f2f3" stroke="#bdbdbd" stroke-width="0.7"/>
<g transform="translate(493.46,217.77) rotate(0)" stroke="#505050" stroke-width="0.98" stroke-linecap="round" fill="none"><line x1="0" y1="0" x2="0.00" y2="-5.16"/><line x1="0.00" y1="-3.20" x2="-1.50" y2="-4.46"/><line x1="0.00" y1="-3.20" x2="1.50" y2="-4.46"/><line x1="0" y1="0" x2="4.47" y2="-2.58"/><line x1="2.77" y1="-1.60" x2="3.11" y2="-3.53"/><line x1="2.77" y1="-1.60" x2="4.61" y2="-0.93"/><line x1="0" y1="0" x2="4.47" y2="2.58"/><line x1="2.77" y1="1.60" x2="4.61" y2="0.93"/><line x1="2.77" y1="1.60" x2="3.11" y2="3.53"/><line x1="0" y1="0" x2="0.00" y2="5.16"/><line x1="0.00" y1="3.20" x2="1.50" y2="4.46"/><line x1="0.00" y1="3.20" x2="-1.50" y2="4.46"/><line x1="0" y1="0" x2="-4.47" y2="2.58"/><line x1="-2.77" y1="1.60" x2="-3.11" y2="3.53"/><line x1="-2.77" y1="1.60" x2="-4.61" y2="0.93"/><line x1="0" y1="0" x2="-4.47" y2="-2.58"/><line x1="-2.77" y1="-1.60" x2="-4.61" y2="-0.93"/><line x1="-2.77" y1="-1.60" x2="-3.11" y2="-3.53"/></g>
<text x="0" y="4.32" font-size="12" fill="#3a3a3a" stroke="#3a3a3a" stroke-width="0" text-anchor="middle" transform="translate(470.37,197.65) rotate(-120)">1</text>
<line x1="479.12" y1="192.60" x2="474.96" y2="195.00" stroke="#555555" stroke-width="1.20"/>
<text x="0" y="4.32" font-size="12" fill="#3a3a3a" stroke="#3a3a3a" stroke-width="0" text-anchor="middle" transform="translate(463.50,172.00) rotate(-90)">2</text>
<line x1="473.60" y1="172.00" x2="468.80" y2="172.00" stroke="#555555" stroke-width="1.20"/>
<text x="0" y="4.32" font-size="12" fill="#3a3a3a" stroke="#3a3a3a" stroke-width="0" text-anchor="middle" transform="translate(470.37,146.35) rotate(-60)">3</text>
<line x1="479.12" y1="151.40" x2="474.96" y2="149.00" stroke="#555555" stroke-width="1.20"/>
<text x="0" y="4.32" font-size="12" fill="#3a3a3a" stroke="#3a3a3a" stroke-width="0" text-anchor="middle" transform="translate(489.15,127.57) rotate(-30)">4</text>
<line x1="494.20" y1="136.32" x2="491.80" y2="132.16" stroke="#555555" stroke-width="1.20"/>
<text x="0" y="4.32" font-size="12" fill="#3a3a3a" stroke="#3a3a3a" stroke-width="0" text-anchor="middle" transform="translate(514.80,120.70) rotate(0)">5</text>
<line x1="514.80" y1="130.80" x2="514.80" y2="126.00" stroke="#555555" stroke-width="1.20"/>
<text x="440.00" y="110.70" font-size="10" fill="#e2652a" font-weight="bold" text-anchor="start" textLength="41.10" lengthAdjust="spacingAndGlyphs" >ca. 28 °C</text>
<text x="411.80" y="127.50" font-size="10" fill="#e9802e" font-weight="bold" text-anchor="start" textLength="41.30" lengthAdjust="spacingAndGlyphs" >ca. 24 °C</text>
<text x="394.80" y="147.80" font-size="10" fill="#ef8d2a" font-weight="bold" text-anchor="start" textLength="41.20" lengthAdjust="spacingAndGlyphs" >ca. 20 °C</text>
<text x="389.30" y="174.10" font-size="10" fill="#2eb2da" font-weight="bold" text-anchor="start" textLength="41.20" lengthAdjust="spacingAndGlyphs" >ca. 16 °C</text>
<text x="395.80" y="200.70" font-size="10" fill="#2eb2da" font-weight="bold" text-anchor="start" textLength="41.20" lengthAdjust="spacingAndGlyphs" >ca. 12 °C</text>
<text x="415.70" y="226.30" font-size="10" fill="#2eb2da" font-weight="bold" text-anchor="start" textLength="35.90" lengthAdjust="spacingAndGlyphs" >ca. 7 °C</text>
<polyline points="486.2,107.8 508.3,107.8 512.2,112" fill="none" stroke="#f2b98a" stroke-width="1"/>
<line x1="457" y1="125.1" x2="476" y2="125.1" stroke="#f2b98a" stroke-width="1"/>
<line x1="440.5" y1="144.2" x2="461" y2="144.2" stroke="#f2b98a" stroke-width="1"/>
<line x1="433.9" y1="170.7" x2="454.5" y2="170.7" stroke="#8fd3ea" stroke-width="1"/>
<line x1="440.4" y1="197.7" x2="459.5" y2="197.7" stroke="#8fd3ea" stroke-width="1"/>
<line x1="455" y1="222.9" x2="480" y2="222.9" stroke="#8fd3ea" stroke-width="1"/>
<text x="381.90" y="282.30" font-size="11" fill="#6a6a6a" font-weight="normal" text-anchor="start" textLength="14.30" lengthAdjust="spacingAndGlyphs" >Der</text>
<text x="400.30" y="282.30" font-size="11" fill="#333333" font-weight="normal" text-anchor="start" textLength="80.60" lengthAdjust="spacingAndGlyphs" stroke="#333333" stroke-width="0.45">Temperaturfühler</text>
<text x="483.90" y="282.30" font-size="11" fill="#6a6a6a" font-weight="normal" text-anchor="start" textLength="57.80" lengthAdjust="spacingAndGlyphs" >vergleicht die</text>
<text x="382.30" y="294.50" font-size="11" fill="#6a6a6a" font-weight="normal" text-anchor="start" textLength="201.50" lengthAdjust="spacingAndGlyphs" >Wunschtemperatur mit der Raumtemperatur.</text>
<line x1="390.3" y1="326.4" x2="442.6" y2="321.2" stroke="#c6c6c6" stroke-width="0.9"/>
<line x1="388" y1="329.8" x2="442.6" y2="325.5" stroke="#c6c6c6" stroke-width="0.9"/>
<line x1="386.3" y1="333.2" x2="442.6" y2="330.1" stroke="#c6c6c6" stroke-width="0.9"/>
<line x1="385.7" y1="366.5" x2="442.6" y2="369.9" stroke="#c6c6c6" stroke-width="0.9"/>
<line x1="388" y1="369.9" x2="442.6" y2="374.5" stroke="#c6c6c6" stroke-width="0.9"/>
<line x1="390.3" y1="374.5" x2="442.6" y2="379.1" stroke="#c6c6c6" stroke-width="0.9"/>
<line x1="411.3" y1="304" x2="411.3" y2="332.7" stroke="#666666" stroke-width="0.8"/>
<path d="M387,334.4 L428,334.4 L428,366 L387,366 Q382,350.2 387,334.4 Z" fill="#8fd6ef"/>
<path d="M389.5,334.4 L424.5,334.4 L424.5,366 L389.5,366 Q385,350.2 389.5,334.4 Z" fill="#1aa2d6"/>
<rect x="427.9" y="332.4" width="53.6" height="36.2" fill="#d4d4d6"/>
<path d="M434.9,333.2 H444.6 V339.5 Q440,338 437,339.8 Q435,339 434.9,337.5 Z" fill="#ffffff"/>
<path d="M434.9,368 H444.6 V360.5 Q440,362 437,360.2 Q435,361 434.9,362.5 Z" fill="#ffffff"/>
<rect x="462.7" y="340.4" width="13.3" height="3.6" fill="#ffffff"/>
<rect x="462.7" y="356" width="13.3" height="4" fill="#ffffff"/>
<polyline points="444.60,340 447.07,336.6 449.53,340 452.00,336.6 454.47,340 456.93,336.6 459.40,340 461.87,336.6 464.33,340 466.80,336.6 469.27,340 471.73,336.6 474.20,340" fill="none" stroke="#ffffff" stroke-width="1.4"/>
<polyline points="444.60,360 447.07,363.4 449.53,360 452.00,363.4 454.47,360 456.93,363.4 459.40,360 461.87,363.4 464.33,360 466.80,363.4 469.27,360 471.73,363.4 474.20,360" fill="none" stroke="#ffffff" stroke-width="1.4"/>
<path d="M480.9,330.3 H580.6 V369.4 H528.7 V387.7 H497.2 V369.4 H480.9 Z" fill="#c3c3c6"/>
<path d="M501.5,337.5 H579.3 V362.5 H523.1 V387.7 H501.5 Z" fill="#c9ecf6"/>
<path d="M510.5,337.5 L521,337.5 L515.7,344.2 Z" fill="#c3c3c6"/>
<path d="M515.7,355.6 L523.1,362.5 L523.1,373.2 L513.2,368.3 L513.2,359 Z" fill="#c3c3c6"/>
<rect x="389.7" y="344.4" width="91" height="10.8" rx="5.4" fill="#ef8a1c"/>
<rect x="480.5" y="346.1" width="22" height="8.5" rx="4.2" fill="#ef8a1c"/>
<rect x="499.5" y="337.9" width="7" height="23.6" rx="3" fill="#ef8a1c"/>
<rect x="504" y="345.5" width="7" height="9" rx="2.5" fill="#ef8a1c"/>
<text x="397.00" y="352.80" font-size="7.5" fill="#fff2e0" font-weight="normal" text-anchor="start" textLength="53.00" lengthAdjust="spacingAndGlyphs" >Übertragungsstift</text>
<text x="484.00" y="352.80" font-size="7.5" fill="#fff2e0" font-weight="normal" text-anchor="start" textLength="17.00" lengthAdjust="spacingAndGlyphs" >Ventil</text>
<path d="M460,349.8 L464,347.8 L464,351.8 Z M475.3,349.8 L471.3,347.8 L471.3,351.8 Z" fill="#ffffff"/>
<line x1="463" y1="349.8" x2="472" y2="349.8" stroke="#ffffff" stroke-width="0.9"/>
<path d="M523.2,350.7 L532.3,347.2 L532.3,354.2 Z" fill="#e0632a"/>
<text x="535.00" y="352.80" font-size="7.5" fill="#d9693a" font-weight="normal" text-anchor="start" textLength="38.30" lengthAdjust="spacingAndGlyphs" >Warmwasser</text>
<path d="M509.4,377.2 L514.3,377.2 L511.8,385 Z" fill="#e0632a"/>
<text x="65.30" y="429.30" font-size="10" fill="#fbcf94" font-weight="normal" text-anchor="start" textLength="63.00" lengthAdjust="spacingAndGlyphs" >Stand: 01/2018</text>
<rect x="135.6" y="422.8" width="0.9" height="6.5" fill="#fbcf94"/>
<text x="144.70" y="429.30" font-size="10" fill="#fbcf94" font-weight="normal" text-anchor="start" textLength="103.20" lengthAdjust="spacingAndGlyphs" >Daten: www.co2online.de</text>
<rect x="256.1" y="422.8" width="0.9" height="6.5" fill="#fbcf94"/>
<text x="266.80" y="429.30" font-size="10" fill="#fbcf94" font-weight="normal" text-anchor="start" textLength="122.90" lengthAdjust="spacingAndGlyphs" >Grafik: www.meine-heizung.de</text>
<circle cx="11.5" cy="425.5" r="4.7" fill="#f4f4f4" stroke="#1a1208" stroke-width="1.5"/>
<circle cx="24.4" cy="425.5" r="4.7" fill="#f4f4f4" stroke="#1a1208" stroke-width="1.5"/>
<circle cx="37.2" cy="425.5" r="4.7" fill="#f4f4f4" stroke="#1a1208" stroke-width="1.5"/>
<circle cx="50.1" cy="425.5" r="4.7" fill="#f4f4f4" stroke="#1a1208" stroke-width="1.5"/>
<text x="11.5" y="427.4" font-size="5.5" font-weight="bold" fill="#111" text-anchor="middle" textLength="5.6" lengthAdjust="spacingAndGlyphs">cc</text>
<circle cx="24.4" cy="422.4" r="0.8" fill="#111"/><rect x="23.1" y="423.4" width="2.6" height="4.9" rx="0.9" fill="#111"/>
<path d="M39.3,423.6 A2.6,2.6 0 1 0 39.3,427.4" fill="none" stroke="#111" stroke-width="1.3"/><rect x="34.4" y="424.6" width="4" height="0.8" fill="#111"/><rect x="34.4" y="426" width="4" height="0.8" fill="#111"/>
<rect x="48" y="424" width="4.2" height="1.2" fill="#111"/><rect x="48" y="426.1" width="4.2" height="1.2" fill="#111"/>
<text x="517.30" y="429.60" font-size="14.5" fill="#4d4d55" font-weight="normal" text-anchor="start" textLength="23.60" lengthAdjust="spacingAndGlyphs" stroke="#4d4d55" stroke-width="0.5">co2</text>
<text x="540.90" y="429.60" font-size="14.5" fill="#2b8f9b" font-weight="normal" text-anchor="start" textLength="37.80" lengthAdjust="spacingAndGlyphs" stroke="#2b8f9b" stroke-width="0.5">online</text></svg></body></html>
